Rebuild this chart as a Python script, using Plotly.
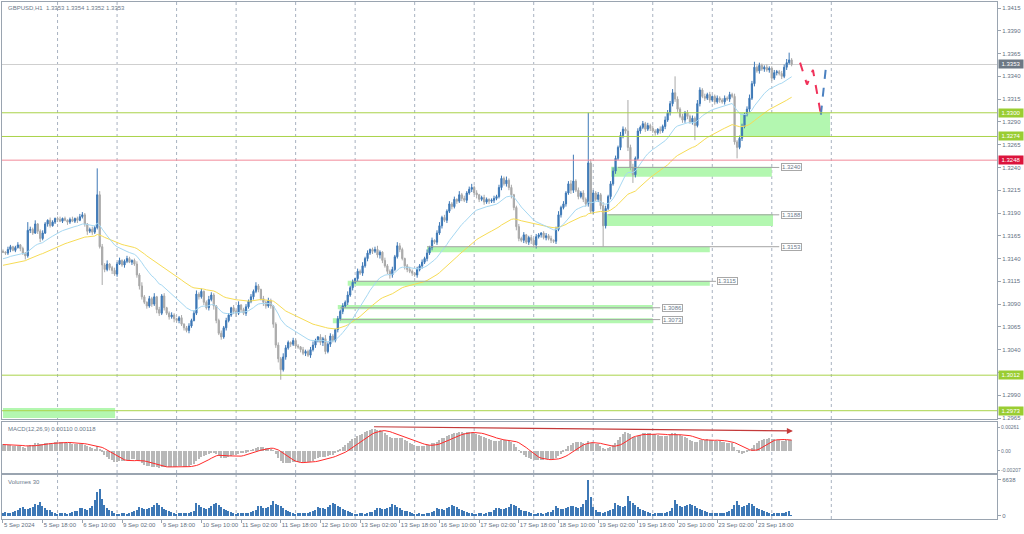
import numpy as np
import plotly.graph_objects as go
from plotly.subplots import make_subplots

# ---------------- data (prices as 1.xxxx, stored as the 4 digits after "1.") ----------------
open_first = 3148
close_pips = [
    3147, 3146, 3150, 3153, 3149, 3152, 3155, 3151, 3146, 3143,   # 0
    3171, 3172, 3168, 3178, 3170, 3162, 3168, 3178, 3182, 3176,   # 10
    3180, 3184, 3183, 3181, 3184, 3182, 3180, 3183, 3181, 3184,   # 20
    3182, 3186, 3188, 3178, 3170, 3172, 3169, 3174, 3210, 3153,   # 30
    3133, 3128, 3134, 3130, 3127, 3123, 3134, 3138, 3133, 3137,   # 40
    3140, 3136, 3138, 3134, 3122, 3110, 3098, 3092, 3088, 3096,   # 50
    3090, 3098, 3084, 3080, 3099, 3086, 3080, 3076, 3078, 3074,   # 60
    3072, 3075, 3068, 3064, 3061, 3066, 3072, 3080, 3101, 3098,   # 70
    3104, 3092, 3086, 3095, 3100, 3088, 3072, 3058, 3054, 3064,   # 80
    3072, 3078, 3086, 3082, 3080, 3089, 3084, 3080, 3087, 3093,   # 90
    3098, 3104, 3110, 3106, 3096, 3092, 3088, 3094, 3088, 3068,   # 100
    3045, 3030, 3018, 3032, 3042, 3048, 3046, 3050, 3044, 3043,   # 110
    3040, 3036, 3038, 3034, 3040, 3045, 3050, 3054, 3048, 3052,   # 120
    3038, 3046, 3055, 3050, 3062, 3074, 3082, 3088, 3092, 3100,   # 130
    3108, 3114, 3118, 3126, 3124, 3132, 3140, 3146, 3150, 3148,   # 140
    3150, 3144, 3147, 3138, 3132, 3126, 3122, 3128, 3142, 3154,   # 150
    3150, 3140, 3132, 3128, 3126, 3124, 3122, 3128, 3132, 3136,   # 160
    3140, 3146, 3152, 3160, 3158, 3168, 3176, 3185, 3182, 3192,   # 170
    3200, 3197, 3205, 3203, 3210, 3206, 3204, 3212, 3216, 3218,   # 180
    3212, 3210, 3205, 3207, 3202, 3205, 3203, 3204, 3206, 3208,   # 190
    3218, 3228, 3222, 3226, 3218, 3210, 3196, 3175, 3162, 3160,   # 200
    3166, 3158, 3163, 3160, 3155, 3164, 3166, 3168, 3163, 3165,   # 210
    3162, 3160, 3159, 3172, 3188, 3196, 3200, 3212, 3222, 3215,   # 220
    3225, 3215, 3208, 3212, 3205, 3200, 3245, 3192, 3212, 3205,   # 230
    3210, 3198, 3176, 3195, 3208, 3222, 3236, 3250, 3262, 3275,   # 240
    3282, 3280, 3262, 3240, 3232, 3250, 3280, 3284, 3288, 3282,   # 250
    3286, 3283, 3280, 3278, 3282, 3280, 3285, 3292, 3300, 3310,   # 260
    3322, 3315, 3304, 3296, 3292, 3300, 3296, 3290, 3294, 3286,   # 270
    3310, 3325, 3318, 3316, 3320, 3314, 3318, 3312, 3316, 3314,   # 280
    3312, 3316, 3315, 3320, 3318, 3268, 3262, 3272, 3285, 3298,   # 290
    3304, 3316, 3332, 3350, 3346, 3352, 3348, 3350, 3347, 3349,   # 300
    3338, 3344, 3345, 3343, 3340, 3350, 3355, 3358, 3353,         # 310
]
wick_up = [
    2, 1, 3, 2, 1, 2, 3, 1, 2, 1, 9, 3, 2, 4, 1, 2, 3, 2, 1, 3,
    2, 1, 2, 3, 1, 2, 1, 2, 3, 1, 2, 3, 3, 2, 1, 2, 3, 2, 29, 4,
    3, 2, 4, 1, 2, 3, 2, 3, 1, 2, 3, 2, 1, 2, 3, 2, 4, 2, 1, 3,
    2, 4, 1, 3, 2, 3, 1, 2, 3, 2, 1, 2, 3, 1, 2, 3, 2, 3, 4, 2,
    3, 1, 2, 4, 3, 2, 1, 2, 3, 2, 3, 2, 1, 3, 2, 4, 1, 2, 3, 2,
    3, 2, 4, 2, 1, 3, 2, 3, 2, 1, 2, 3, 2, 4, 3, 2, 1, 3, 2, 2,
    1, 3, 2, 2, 3, 4, 2, 1, 3, 2, 4, 2, 3, 2, 1, 3, 2, 3, 2, 4,
    2, 3, 1, 3, 2, 4, 2, 3, 1, 2, 3, 4, 2, 1, 3, 2, 2, 3, 2, 4,
    3, 2, 1, 2, 3, 2, 1, 3, 2, 3, 2, 4, 2, 3, 1, 3, 4, 2, 3, 2,
    3, 2, 3, 1, 4, 2, 3, 2, 3, 4, 2, 3, 1, 2, 3, 2, 1, 2, 3, 2,
    3, 3, 2, 4, 2, 3, 1, 2, 3, 2, 3, 1, 2, 3, 2, 3, 2, 1, 2, 3,
    2, 3, 1, 3, 4, 2, 3, 2, 3, 4, 29, 2, 3, 2, 3, 2, 55, 4, 3, 2,
    3, 2, 4, 3, 2, 3, 4, 3, 2, 4, 3, 2, 34, 3, 4, 2, 3, 2, 3, 2,
    3, 2, 3, 2, 1, 3, 2, 4, 3, 3, 4, 18, 3, 2, 3, 2, 3, 2, 3, 2,
    4, 3, 2, 3, 2, 3, 1, 2, 3, 2, 2, 3, 2, 3, 2, 3, 2, 3, 3, 2,
    3, 4, 3, 6, 2, 3, 2, 2, 3, 2, 2, 3, 2, 2, 3, 3, 4, 8, 2,
]
wick_dn = [
    1, 2, 2, 3, 1, 2, 1, 3, 2, 4, 2, 3, 2, 1, 3, 4, 2, 1, 3, 2,
    1, 2, 3, 1, 2, 1, 3, 2, 1, 2, 3, 1, 2, 3, 4, 2, 3, 2, 2, 2,
    22, 3, 2, 3, 4, 2, 3, 1, 2, 3, 2, 1, 3, 2, 3, 4, 3, 2, 3, 2,
    3, 2, 4, 3, 2, 3, 2, 3, 2, 4, 2, 3, 2, 3, 2, 3, 2, 1, 2, 3,
    2, 3, 2, 3, 2, 4, 3, 2, 3, 2, 3, 2, 2, 3, 4, 2, 3, 2, 3, 2,
    2, 3, 2, 3, 2, 4, 3, 2, 3, 4, 3, 4, 11, 2, 3, 2, 3, 2, 3, 2,
    3, 2, 3, 2, 3, 2, 3, 2, 3, 4, 3, 2, 3, 2, 2, 3, 2, 3, 2, 3,
    2, 3, 2, 3, 2, 3, 2, 3, 2, 3, 2, 3, 4, 3, 2, 3, 4, 3, 2, 2,
    3, 2, 4, 3, 2, 3, 2, 3, 2, 3, 2, 3, 2, 3, 2, 3, 2, 3, 2, 3,
    2, 3, 2, 3, 2, 3, 2, 3, 2, 3, 2, 4, 3, 2, 3, 2, 3, 2, 3, 2,
    2, 3, 2, 3, 3, 4, 3, 4, 3, 2, 3, 2, 3, 4, 3, 4, 2, 3, 2, 3,
    2, 3, 2, 3, 2, 3, 2, 3, 2, 4, 3, 2, 3, 2, 3, 3, 3, 2, 3, 2,
    3, 4, 23, 3, 2, 3, 2, 3, 2, 3, 3, 3, 4, 3, 9, 3, 2, 3, 2, 3,
    2, 3, 2, 3, 2, 3, 2, 3, 2, 3, 3, 3, 3, 2, 3, 3, 3, 2, 3, 16,
    2, 3, 2, 3, 2, 3, 2, 3, 2, 3, 2, 3, 2, 3, 2, 3, 12, 2, 3, 2,
    2, 3, 2, 3, 2, 3, 2, 3, 2, 3, 3, 2, 3, 2, 3, 2, 3, 2, 2,
]
volumes = (
    [540, 620, 480, 510, 690, 860, 1020, 1380, 1520, 1290, 1180, 1460, 1650, 2150, 1980, 2480, 1870, 1420, 1130, 960, 740, 510]  # 5 Sep (from 02:00)
    + [330, 410, 520, 470, 380, 450, 640, 790, 950, 1410, 1330, 1240, 1120, 1480, 1720, 2900, 4300, 4900, 3100, 1900, 1420, 1080, 860, 590]  # 6 Sep
    + [290, 380, 460, 420, 390, 510, 620, 780, 1010, 1560, 1420, 1280, 1190, 1350, 1610, 2050, 2340, 1890, 1560, 1240, 980, 820, 640, 470]  # 9 Sep
    + [350, 420, 510, 460, 430, 520, 690, 850, 2280, 2060, 1620, 1340, 1210, 1480, 1750, 2130, 2360, 1980, 1520, 1230, 1010, 840, 660, 480]  # 10 Sep
    + [380, 450, 520, 480, 410, 500, 680, 830, 1120, 1840, 1720, 1460, 1350, 1680, 1920, 2650, 2240, 2010, 1730, 1380, 1120, 890, 720, 530]  # 11 Sep
    + [360, 430, 480, 450, 420, 510, 660, 810, 1060, 1520, 1480, 1360, 1280, 1620, 1980, 2410, 2180, 1840, 1520, 1260, 1020, 860, 690, 500]  # 12 Sep
    + [340, 400, 470, 430, 390, 480, 620, 760, 980, 1460, 1380, 1240, 1150, 1390, 1660, 2080, 1920, 1640, 1350, 1120, 940, 780, 610, 420]  # 13 Sep
    + [280, 360, 430, 400, 370, 450, 580, 720, 950, 1380, 1310, 1200, 1100, 1340, 1580, 1950, 1810, 1530, 1260, 1050, 880, 720, 580, 410]  # 16 Sep
    + [320, 390, 450, 420, 390, 470, 610, 750, 1000, 1420, 1360, 1250, 1160, 1420, 1690, 2240, 2060, 1710, 1380, 1140, 950, 790, 620, 440]  # 17 Sep
    + [300, 370, 440, 410, 380, 460, 600, 740, 990, 1750, 1460, 1290, 1180, 1390, 1620, 1880, 1730, 1520, 1400, 1680, 2150, 2940, 6638, 3450]  # 18 Sep
    + [1650, 980, 760, 620, 560, 640, 820, 980, 1310, 2260, 1980, 1740, 1520, 1880, 3550, 2620, 2350, 1960, 1610, 1320, 1080, 880, 700, 510]  # 19 Sep
    + [360, 430, 500, 460, 420, 520, 680, 840, 1420, 2950, 2210, 1830, 1560, 1720, 1980, 2240, 2060, 1780, 1460, 1210, 990, 820, 640, 450]  # 20 Sep
    + [420, 480, 550, 520, 470, 560, 720, 880, 1180, 1960, 2640, 1890, 1620, 1780, 2050, 2380, 2120, 1790, 1480, 1220, 1010, 830, 660, 470]  # 23 Sep
    + [340, 420, 480, 450, 410, 500, 640, 790, 30]  # 24 Sep
)
time_labels = ["5 Sep 2024", "5 Sep 18:00", "6 Sep 10:00", "9 Sep 02:00", "9 Sep 18:00",
               "10 Sep 10:00", "11 Sep 02:00", "11 Sep 18:00", "12 Sep 10:00", "13 Sep 02:00",
               "13 Sep 18:00", "16 Sep 10:00", "17 Sep 02:00", "17 Sep 18:00", "18 Sep 10:00",
               "19 Sep 02:00", "19 Sep 18:00", "20 Sep 10:00", "23 Sep 02:00", "23 Sep 18:00"]
label_step = 16
day_start_bars = [22, 46, 70, 94, 118, 142, 166, 190, 214, 238, 262, 286, 310, 334]

# indicator seeds (values carried in from before the window)
ma_fast_period, ma_fast_seed = 20, 1.3139
ma_slow_period, ma_slow_seed = 50, 1.3132
ema12_seed, ema26_seed, signal_seed = 1.3148, 1.3140, 0.0007

# analyst drawings
levels = [(1.3300, "#a9d34a"), (1.3274, "#a9d34a"), (1.3248, "#f28a9a"), (1.3012, "#a9d34a"), (1.2973, "#a9d34a")]
level_tags = [(1.3353, "#6d7884"), (1.3300, "#9acd32"), (1.3274, "#9acd32"), (1.3248, "#dc143c"), (1.3012, "#9acd32"), (1.2973, "#9acd32")]
zones = [  # bar_from, bar_to, top, bottom
    (297.2, 333.5, 1.3300, 1.3274),
    (245.2, 310.0, 1.32408, 1.32298),
    (241.9, 310.5, 1.31889, 1.31757),
    (171.0, 285.0, 1.31530, 1.31468),
    (139.0, 285.0, 1.31157, 1.31102),
    (135.0, 262.0, 1.30890, 1.30843),
    (133.0, 262.0, 1.30744, 1.30689),
    (0.0, 45.2, 1.29760, 1.29650),
]
trend_lines = [  # bar_from, bar_to, price, label, label_bar
    (248.0, 313.0, 1.3240, "1.3240", 313.7),
    (244.0, 313.0, 1.3188, "1.3188", 313.7),
    (171.0, 313.0, 1.3153, "1.3153", 313.7),
    (141.0, 287.5, 1.3115, "1.3115", 288.0),
    (136.0, 265.0, 1.3086, "1.3086", 265.7),
    (136.0, 265.0, 1.3073, "1.3073", 265.7),
]
forecast_red_bars = [321.4, 324.2, 326.6, 329.8]
forecast_red_prices = [1.3355, 1.3331, 1.3347, 1.3298]
forecast_blue_bars = [329.8, 331.9]
forecast_blue_prices = [1.3298, 1.3352]
macd_arrow = (149.0, 0.00264, 318.5, 0.00218)
bid_price = 1.3353

assert len(close_pips) == len(wick_up) == len(wick_dn) == len(volumes), (len(close_pips), len(wick_up), len(wick_dn), len(volumes))

# ---------------- derived series ----------------
n = len(close_pips)
bars = np.arange(n)
closes = 1 + np.array(close_pips) / 10000
opens = np.concatenate([[1 + open_first / 10000], closes[:-1]])
highs = np.maximum(opens, closes) + np.array(wick_up) / 10000
lows = np.minimum(opens, closes) - np.array(wick_dn) / 10000


def ema(values, period, seed):
    k = 2 / (period + 1)
    out, prev = [], seed
    for v in values:
        prev = prev + k * (v - prev)
        out.append(prev)
    return np.array(out)


ma_fast = ema(closes, ma_fast_period, ma_fast_seed)
ma_slow = ema(closes, ma_slow_period, ma_slow_seed)
macd = ema(closes, 12, ema12_seed) - ema(closes, 26, ema26_seed)
padded = np.concatenate([np.full(8, signal_seed), macd])
signal = np.convolve(padded, np.ones(9) / 9, mode="valid")

# ---------------- figure ----------------
FONT = "Liberation Sans"
TXT = "#5f7082"
AX = "#9aa4b0"

fig = make_subplots(rows=3, cols=1, shared_xaxes=True, vertical_spacing=0.0)

fig.add_trace(go.Candlestick(
    x=bars, open=opens, high=highs, low=lows, close=closes,
    increasing=dict(line=dict(color="#3d78b6", width=1), fillcolor="#3d78b6"),
    decreasing=dict(line=dict(color="#a9a9a9", width=1), fillcolor="#a9a9a9"),
    whiskerwidth=0, hoverinfo="skip", showlegend=False), row=1, col=1)
fig.add_trace(go.Scatter(x=bars, y=ma_slow, mode="lines", line=dict(color="#f7dc55", width=1),
                         hoverinfo="skip", showlegend=False), row=1, col=1)
fig.add_trace(go.Scatter(x=bars, y=ma_fast, mode="lines", line=dict(color="#a6d8f2", width=1),
                         hoverinfo="skip", showlegend=False), row=1, col=1)
fig.add_trace(go.Scatter(x=forecast_red_bars, y=forecast_red_prices, mode="lines",
                         line=dict(color="#f0325a", width=2, dash="dash"), hoverinfo="skip", showlegend=False), row=1, col=1)
fig.add_trace(go.Scatter(x=forecast_blue_bars, y=forecast_blue_prices, mode="lines",
                         line=dict(color="#4a80c0", width=2, dash="dash"), hoverinfo="skip", showlegend=False), row=1, col=1)

fig.add_trace(go.Bar(x=bars, y=macd, width=0.55, marker=dict(color="#b8b8b8", line=dict(width=0)),
                     hoverinfo="skip", showlegend=False), row=2, col=1)
fig.add_trace(go.Scatter(x=bars, y=signal, mode="lines", line=dict(color="#ff2a2a", width=1),
                         hoverinfo="skip", showlegend=False), row=2, col=1)

fig.add_trace(go.Bar(x=bars, y=volumes, width=0.55, marker=dict(color="#3d78b6", line=dict(width=0)),
                     hoverinfo="skip", showlegend=False), row=3, col=1)

shapes = []
for b in day_start_bars:
    for yr in ("y", "y2", "y3"):
        shapes.append(dict(type="line", xref="x", yref=yr + " domain", x0=b, x1=b, y0=0, y1=1,
                           line=dict(color="#a8b2c0", width=1, dash="dot"), layer="below"))
for b0, b1, top, bot in zones:
    shapes.append(dict(type="rect", xref="x", yref="y", x0=b0, x1=b1, y0=bot, y1=top,
                       fillcolor="#b3f7b0", line=dict(width=0), layer="below"))
shapes.append(dict(type="line", xref="x domain", yref="y", x0=0, x1=1, y0=bid_price, y1=bid_price,
                   line=dict(color="#cfcfcf", width=1), layer="below"))
for p, c in levels:
    shapes.append(dict(type="line", xref="x domain", yref="y", x0=0, x1=1, y0=p, y1=p,
                       line=dict(color=c, width=1), layer="above"))
for b0, b1, p, lab, lb in trend_lines:
    shapes.append(dict(type="line", xref="x", yref="y", x0=b0, x1=b1, y0=p, y1=p,
                       line=dict(color="#a4a4a4", width=1), layer="above"))
fig.update_layout(shapes=shapes)

ann = []
for b0, b1, p, lab, lb in trend_lines:
    ann.append(dict(x=lb, y=p, xref="x", yref="y", text=lab, showarrow=False, xanchor="left",
                    yanchor="middle", font=dict(family=FONT, size=6, color="#6b7a8a"),
                    bgcolor="#ffffff", bordercolor="#a8a8a8", borderwidth=1, borderpad=0))
for p, c in level_tags:
    ann.append(dict(x=1, y=p, xref="paper", yref="y", text=f"{p:.4f}", showarrow=False, xanchor="left",
                    xshift=1, yanchor="middle", width=24, height=8,
                    font=dict(family=FONT, size=6, color="#ffffff"), bgcolor=c, borderpad=0))
ann.append(dict(x=0.004, y=1, xref="paper", yref="paper", yanchor="top", xanchor="left", yshift=-1,
                text="GBPUSD,H1  1.3353 1.3354 1.3352 1.3353", showarrow=False,
                font=dict(family=FONT, size=6, color="#6b7a8a")))
ann.append(dict(x=0.004, y=1, xref="paper", yref="y2 domain", yanchor="top", xanchor="left", yshift=-2,
                text="MACD(12,26,9) 0.00110 0.00118", showarrow=False,
                font=dict(family=FONT, size=6, color="#6b7a8a")))
ann.append(dict(x=0.004, y=1, xref="paper", yref="y3 domain", yanchor="top", xanchor="left", yshift=-2,
                text="Volumes 30", showarrow=False,
                font=dict(family=FONT, size=6, color="#6b7a8a")))
ax0, ay0, ax1, ay1 = macd_arrow
ann.append(dict(x=ax1, y=ay1, ax=ax0, ay=ay0, xref="x2", yref="y2", axref="x2", ayref="y2",
                showarrow=True, arrowhead=2, arrowsize=1, arrowwidth=1.2, arrowcolor="#c43a3a", text=""))
fig.update_layout(annotations=ann)

px_per_bar = 2.48
x_lo = -0.4
x_hi = x_lo + 995 / px_per_bar

axis_common = dict(showgrid=False, zeroline=False, showline=True, linecolor=AX, linewidth=1,
                   mirror=True, automargin=False)
for i in (1, 2, 3):
    fig.update_xaxes(row=i, col=1, range=[x_lo, x_hi], rangeslider=dict(visible=False), **axis_common)
fig.update_xaxes(row=1, col=1, showticklabels=False, ticks="")
fig.update_xaxes(row=2, col=1, showticklabels=False, ticks="")
fig.update_xaxes(row=3, col=1, tickmode="array",
                 tickvals=[k * label_step for k in range(len(time_labels))], ticktext=time_labels,
                 ticks="outside", ticklen=3, tickcolor=AX, ticklabelposition="outside right",
                 tickangle=0, tickfont=dict(family=FONT, size=6, color=TXT))

fig.update_yaxes(row=1, col=1, side="right", range=[1.296389, 1.342159], tick0=1.2965, dtick=0.0025,
                 tickformat=".4f", ticks="outside", ticklen=3, tickcolor=AX,
                 tickfont=dict(family=FONT, size=6, color=TXT), domain=[0.1934, 1.0], **axis_common)
fig.update_yaxes(row=2, col=1, side="right", range=[-0.002393, 0.003154], tickmode="array",
                 tickvals=[0.00261, 0.0, -0.00207], ticktext=["0.00261", "0.00", "-0.00207"],
                 ticks="outside", ticklen=2, tickcolor=AX,
                 tickfont=dict(family=FONT, size=5, color=TXT), domain=[0.0890, 0.1876], **axis_common)
fig.update_yaxes(row=3, col=1, side="right", range=[-608, 7505], tickmode="array",
                 tickvals=[0, 6638], ticktext=["0", "6638"],
                 ticks="outside", ticklen=3, tickcolor=AX,
                 tickfont=dict(family=FONT, size=6, color=TXT), domain=[0.0, 0.0851], **axis_common)

fig.update_layout(
    width=1024, height=534, margin=dict(l=2, r=27, t=2, b=15, autoexpand=False),
    paper_bgcolor="#ffffff", plot_bgcolor="#ffffff",
    showlegend=False, bargap=0, hovermode=False,
    font=dict(family=FONT, size=6, color=TXT),
)

fig.write_html("out.html", config={"displayModeBar": False},
               post_script="document.body.style.margin='0px';document.body.style.padding='0px';")
